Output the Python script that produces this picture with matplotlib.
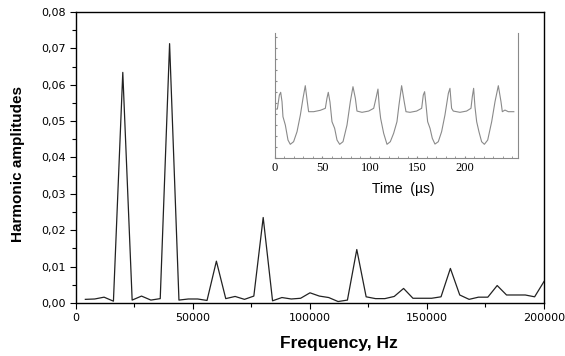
import numpy as np
import matplotlib.pyplot as plt
from matplotlib.ticker import MultipleLocator, FixedLocator, FuncFormatter

# --- spectrum: harmonic amplitudes every 4 kHz
freq_step = 4000
amps = [0.0010, 0.0011, 0.0016, 0.0005, 0.0634,
        0.0008, 0.0019, 0.0008, 0.0012, 0.0713,
        0.0008, 0.0011, 0.0011, 0.0007, 0.0115,
        0.0012, 0.0018, 0.0010, 0.0019, 0.0235,
        0.0006, 0.0015, 0.0011, 0.0013, 0.0028,
        0.0019, 0.0015, 0.0004, 0.0008, 0.0147,
        0.0017, 0.0012, 0.0012, 0.0018, 0.0040,
        0.0013, 0.0013, 0.0013, 0.0017, 0.0095,
        0.0022, 0.0010, 0.0016, 0.0016, 0.0048,
        0.0022, 0.0022, 0.0022, 0.0017, 0.0059]
freqs = [freq_step * (i + 1) for i in range(len(amps))]

# --- inset: time signal (us, arbitrary units)
t_us = [0.3, 2.5, 4.6, 6.0, 7.4, 8.4, 10.9, 13.7, 16.1, 19.6, 23.2, 26.7, 29.5, 31.9,
        34.0, 35.4, 40.7, 47.7, 53.0, 54.7, 56.1, 57.9, 60.0, 62.8, 65.3, 68.1, 71.6,
        75.8, 79.3, 82.1, 84.6, 86.3, 91.6, 98.6, 103.9, 106.3, 108.4, 109.8, 111.2,
        114.4, 117.9, 121.4, 124.9, 128.4, 130.5, 133.3, 136.1, 137.9, 142.1, 149.1,
        154.4, 156.1, 157.5, 159.0, 160.7, 163.2, 165.6, 168.4, 171.9, 175.4, 178.9,
        182.5, 184.2, 185.9, 187.7, 194.7, 201.7, 206.3, 207.7, 209.1, 210.5, 212.3,
        214.7, 217.5, 220.4, 223.9, 228.1, 231.6, 235.1, 237.9, 239.3, 242.1, 245.6,
        251.4]
sig = [0.394, 0.394, 0.506, 0.528, 0.453, 0.333, 0.266, 0.146, 0.112, 0.133, 0.213,
       0.346, 0.480, 0.581, 0.453, 0.373, 0.373, 0.384, 0.400, 0.480, 0.528, 0.450,
       0.293, 0.240, 0.146, 0.112, 0.133, 0.266, 0.453, 0.573, 0.480, 0.378, 0.368,
       0.378, 0.400, 0.480, 0.554, 0.413, 0.320, 0.200, 0.112, 0.133, 0.200, 0.293,
       0.426, 0.581, 0.450, 0.373, 0.368, 0.378, 0.400, 0.506, 0.533, 0.426, 0.293,
       0.240, 0.160, 0.114, 0.133, 0.213, 0.346, 0.520, 0.560, 0.400, 0.378, 0.368,
       0.378, 0.400, 0.493, 0.560, 0.413, 0.293, 0.213, 0.133, 0.112, 0.146, 0.293,
       0.453, 0.581, 0.453, 0.373, 0.386, 0.373, 0.373]
inset_ticks = [0, 50, 100, 150, 200]

fig = plt.figure(figsize=(5.65, 3.56), dpi=100)
ax = fig.add_axes([0.1345, 0.1489, 0.8283, 0.8174])

ax.plot(freqs, amps, color='#222222', lw=0.9)
ax.set_xlim(0, 200000)
ax.set_ylim(0, 0.08)

ax.xaxis.set_major_locator(MultipleLocator(50000))
ax.xaxis.set_minor_locator(MultipleLocator(25000))
ax.yaxis.set_major_locator(MultipleLocator(0.01))
ax.yaxis.set_minor_locator(MultipleLocator(0.005))
ax.yaxis.set_major_formatter(FuncFormatter(lambda v, p: f"{v:.2f}".replace('.', ',')))
ax.xaxis.set_major_formatter(FuncFormatter(lambda v, p: f"{int(v)}"))
ax.tick_params(which='major', direction='out', length=4.5, width=0.8, labelsize=8, pad=3,
               top=False, right=False)
ax.tick_params(which='minor', direction='out', length=3, width=0.8, top=False, right=False)
for s in ax.spines.values():
    s.set_linewidth(1.0)

ax.set_xlabel("Frequency, Hz", fontsize=12.5, fontweight='bold', family='Liberation Sans')
ax.set_ylabel("Harmonic amplitudes", fontsize=11, fontweight='bold', family='Liberation Sans')
ax.xaxis.set_label_coords(0.562, -0.115)
ax.yaxis.set_label_coords(-0.11, 0.478)

# --- inset
ins = fig.add_axes([0.4867, 0.5553, 0.4296, 0.3511])
ins.plot(t_us, sig, color='#8a8a8a', lw=0.8)
ins.set_xlim(0, 255.5)
ins.set_ylim(0, 1)
ins.spines['top'].set_visible(False)
for k in ('left', 'right', 'bottom'):
    ins.spines[k].set_color('#8a8a8a')
    ins.spines[k].set_linewidth(0.8)
ins.xaxis.set_major_locator(FixedLocator(inset_ticks))
ins.xaxis.set_minor_locator(MultipleLocator(10))
ins.yaxis.set_major_locator(MultipleLocator(0.088))
ins.tick_params(axis='x', which='both', direction='in', length=1.5, color='#8a8a8a',
                labelsize=9, pad=3)
ins.tick_params(axis='y', which='both', direction='in', length=1.5, color='#8a8a8a',
                labelleft=False)
for lab in ins.get_xticklabels():
    lab.set_family('Liberation Serif')
ins.set_xlabel("Time  (\u00b5s)", fontsize=10, family='Liberation Sans')
ins.xaxis.set_label_coords(0.53, -0.19)

fig.savefig("out.png", dpi=100)
